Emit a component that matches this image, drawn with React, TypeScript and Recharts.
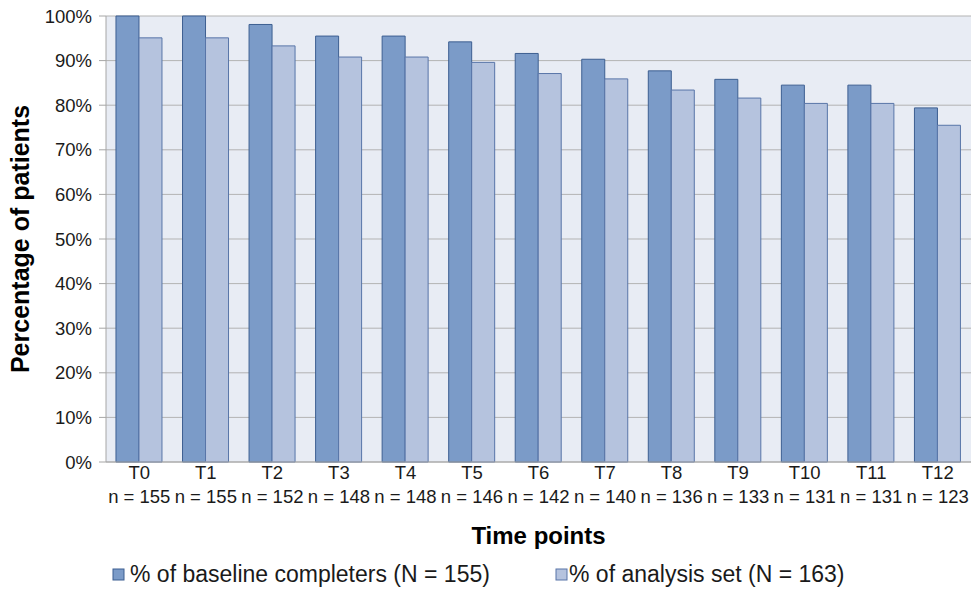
import { BarChart, Bar, XAxis, YAxis, CartesianGrid, Legend } from 'recharts';

const timePoints = ['T0', 'T1', 'T2', 'T3', 'T4', 'T5', 'T6', 'T7', 'T8', 'T9', 'T10', 'T11', 'T12'];
const nLabels = ['155', '155', '152', '148', '148', '146', '142', '140', '136', '133', '131', '131', '123'];
const completers = [100, 100, 98.1, 95.5, 95.5, 94.2, 91.6, 90.3, 87.7, 85.8, 84.5, 84.5, 79.4];
const analysisSet = [95.1, 95.1, 93.3, 90.8, 90.8, 89.6, 87.1, 85.9, 83.4, 81.6, 80.4, 80.4, 75.5];
const yTicks = [0, 10, 20, 30, 40, 50, 60, 70, 80, 90, 100];

const data = timePoints.map((t, i) => ({
  name: t,
  n: nLabels[i],
  completers: completers[i],
  analysis: analysisSet[i],
}));

const FONT = '"Liberation Sans", Arial, sans-serif';
const DARK = '#7b9bc8';
const DARK_EDGE = '#3d5f91';
const LIGHT = '#b5c3de';
const LIGHT_EDGE = '#5875a8';

function TimeTick({ x, y, payload, index }: any) {
  return (
    <g transform={`translate(${x},${y})`}>
      <text x={0} y={9} textAnchor="middle" fontSize={18.5} fill="#1a1a1a" fontFamily={FONT}>{payload.value}</text>
      <text x={0} y={33} textAnchor="middle" fontSize={18.5} fill="#1a1a1a" fontFamily={FONT}>{`n = ${nLabels[index]}`}</text>
    </g>
  );
}

function LegendBox() {
  const items = [
    { label: '% of baseline completers (N = 155)', fill: DARK, edge: DARK_EDGE, x: 113, tx: 130 },
    { label: '% of analysis set (N = 163)', fill: LIGHT, edge: LIGHT_EDGE, x: 556, tx: 569 },
  ];
  return (
    <svg width={972} height={40} style={{ display: 'block' }}>
      {items.map((it) => (
        <g key={it.label}>
          <rect x={it.x} y={20} width={11} height={11} fill={it.fill} stroke={it.edge} strokeWidth={1} />
          <text x={it.tx} y={33} fontSize={23} fill="#1a1a1a" fontFamily={FONT}>{it.label}</text>
        </g>
      ))}
    </svg>
  );
}

export default function App() {
  return (
    <div style={{ position: 'absolute', left: 0, top: 0, width: 972, height: 589, background: '#fff' }}>
      <BarChart
        width={972}
        height={589}
        data={data}
        margin={{ top: 16, right: 1, left: 0, bottom: 0 }}
        barCategoryGap="15%"
        barGap={0}
      >
        <CartesianGrid vertical={false} stroke="#b3b3b3" fill="#e8ecf4" />
        <XAxis
          dataKey="name"
          height={87}
          tick={<TimeTick />}
          tickLine={false}
          axisLine={{ stroke: '#a6a6a6' }}
          interval={0}
          label={{ value: 'Time points', position: 'insideBottom', offset: 5, style: { fontSize: 24, fontWeight: 'bold', fill: '#000', fontFamily: FONT } }}
        />
        <YAxis
          width={106}
          domain={[0, 100]}
          ticks={yTicks}
          tickFormatter={(v: number) => `${v}%`}
          tickSize={7}
          tickMargin={7}
          tick={{ fontSize: 18.5, fill: '#1a1a1a', fontFamily: FONT }}
          tickLine={{ stroke: '#a6a6a6' }}
          axisLine={{ stroke: '#a6a6a6' }}
          label={{ value: 'Percentage of patients', angle: -90, position: 'insideLeft', offset: 20, style: { textAnchor: 'middle', fontSize: 25, fontWeight: 'bold', fill: '#000', fontFamily: FONT } }}
        />
        <Legend verticalAlign="bottom" height={40} content={() => <LegendBox />} wrapperStyle={{ left: 0, width: 972 }} />
        <Bar dataKey="completers" name="% of baseline completers (N = 155)" fill={DARK} stroke={DARK_EDGE} strokeWidth={1} isAnimationActive={false} />
        <Bar dataKey="analysis" name="% of analysis set (N = 163)" fill={LIGHT} stroke={LIGHT_EDGE} strokeWidth={1} isAnimationActive={false} />
      </BarChart>
    </div>
  );
}
